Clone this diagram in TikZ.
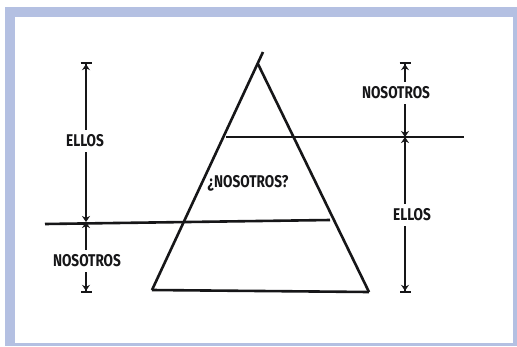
\documentclass[tikz,border=0pt]{standalone}
\usepackage{fontspec}
\newfontfamily\hand[FakeStretch=0.8]{Fira Sans}
\usetikzlibrary{arrows.meta}
\definecolor{frameblue}{RGB}{180,192,226}
\definecolor{ink}{RGB}{22,22,24}
\begin{document}
\begin{tikzpicture}[
    x=1pt, y=-1pt,
    line width=2.6pt,
    color=ink,
    every node/.style={text=ink},
    lab/.style={font=\hand\bfseries\fontsize{17}{17}\selectfont, inner xsep=0pt, inner ysep=4pt},
    dim/.style={line width=2.2pt, -{Stealth[length=6pt,width=8pt] Bar[width=11pt,line width=2.2pt]}},
    meet/.style={line width=2.2pt, -{Stealth[length=6pt,width=8pt]}}
]

    % --- FRAME ---
    \fill[frameblue] (5,7) rectangle (517,346);
    \fill[white] (15,17) rectangle (513,343);
    \useasboundingbox (0,0) rectangle (517,346);

    % --- PYRAMID ---

    % Define coordinates
    \coordinate (P_Tip) at (263,52);   % stroke overshoot above apex
    \coordinate (P_Top) at (258,64);   % apex
    \coordinate (P_BL) at (152,290);   % base left
    \coordinate (P_BR) at (369,292);   % base right

    \draw (P_BL) -- (P_Tip);
    \draw (P_Top) -- (P_BR);
    \draw (P_BL) -- (P_BR);

    % Cut lines
    \coordinate (U_L) at (226,137);
    \coordinate (U_R) at (464,137);
    \coordinate (D_L) at (45,224);
    \coordinate (D_R) at (330,220);

    \draw (U_L) -- (U_R);
    \draw (D_L) -- (D_R);

    % Middle label
    \node[lab] (Mid) at (248,183) {¿NOSOTROS?};

    % --- LEFT SCALE ---
    \coordinate (L_Top) at (86,62);
    \coordinate (L_Cross) at (86,222);
    \coordinate (L_Bot) at (86,293);

    \node[lab] (L_Ellos) at (85,141) {ELLOS};
    \node[lab] (L_Nos) at (87,261) {NOSOTROS};

    \draw[dim] (L_Ellos.north -| L_Top) -- (L_Top);
    \draw[meet] (L_Ellos.south -| L_Top) -- (L_Cross);
    \draw[meet] (L_Nos.north -| L_Top) -- (L_Cross);
    \draw[dim] (L_Nos.south -| L_Top) -- (L_Bot);

    % --- RIGHT SCALE ---
    \coordinate (R_Top) at (405,62);
    \coordinate (R_Cross) at (405,137);
    \coordinate (R_Bot) at (405,293);

    \node[lab] (R_Nos) at (396,93) {NOSOTROS};
    \node[lab] (R_Ellos) at (412,215) {ELLOS};

    \draw[dim] (R_Nos.north -| R_Top) -- (R_Top);
    \draw[meet] (R_Nos.south -| R_Top) -- (R_Cross);
    \draw[meet] (R_Ellos.north -| R_Top) -- (R_Cross);
    \draw[dim] (R_Ellos.south -| R_Top) -- (R_Bot);

\end{tikzpicture}
\end{document}
